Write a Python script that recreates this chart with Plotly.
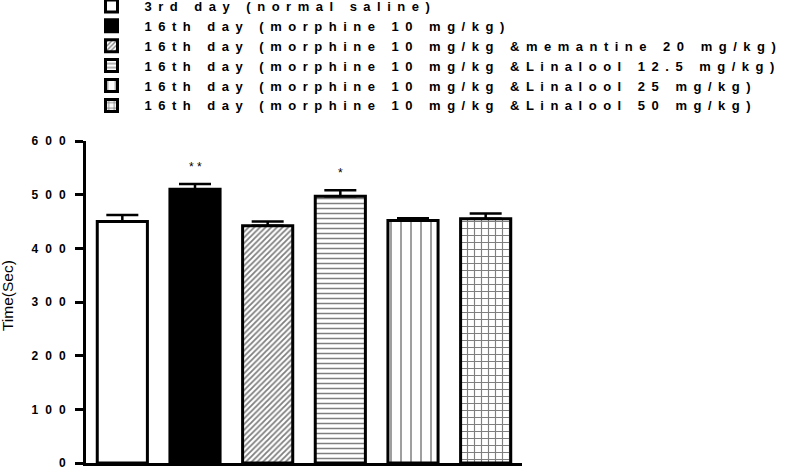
import plotly.graph_objects as go

groups = [
    "3rd day (normal saline)",
    "16th day (morphine 10 mg/kg)",
    "16th day (morphine 10 mg/kg &memantine 20 mg/kg)",
    "16th day (morphine 10 mg/kg &Linalool 12.5 mg/kg)",
    "16th day (morphine 10 mg/kg &Linalool 25 mg/kg)",
    "16th day (morphine 10 mg/kg &Linalool 50 mg/kg)",
]
means = [450, 510, 442, 497, 452, 455]
sems = [12, 10, 8, 11, 4, 10]
stars = ["", "**", "", "*", "", ""]
yticks = [0, 100, 200, 300, 400, 500, 600]

fills = ["white", "black", "white", "white", "white", "white"]
patterns = [
    dict(shape=""),
    dict(shape=""),
    dict(shape="/", size=4, solidity=0.45, fgcolor="black", bgcolor="white"),
    dict(shape="-", size=5, solidity=0.3, fgcolor="black", bgcolor="white"),
    dict(shape="|", size=10, solidity=0.15, fgcolor="black", bgcolor="white"),
    dict(shape="+", size=7, solidity=0.3, fgcolor="black", bgcolor="white"),
]

fig = go.Figure()
for i, g in enumerate(groups):
    fig.add_trace(go.Bar(
        x=[i], y=[means[i]], name=g,
        width=0.69,
        marker=dict(color=fills[i], line=dict(color="black", width=3), pattern=patterns[i]),
        error_y=dict(type="data", array=[sems[i]], arrayminus=[0], symmetric=False,
                     color="black", thickness=2.5, width=16),
    ))
    if stars[i]:
        fig.add_annotation(x=i, y=means[i] + sems[i] + 32, text=" ".join(stars[i]),
                           showarrow=False, font=dict(size=12, color="black", family="Liberation Sans"))

fig.add_annotation(xref="paper", yref="paper", x=-0.18, y=0.52, text="Time(Sec)",
                   textangle=-90, showarrow=False, xanchor="center", yanchor="middle",
                   font=dict(size=15.5, color="black", family="Liberation Sans, Arial"))

fig.update_layout(
    width=793, height=469,
    margin=dict(l=86, r=271, t=141, b=6, autoexpand=False),
    plot_bgcolor="white", paper_bgcolor="white",
    showlegend=True,
    bargap=0.31,
    font=dict(family="Liberation Sans, Arial", color="black"),
    legend=dict(xref="container", yref="paper", x=0.099, y=1.466, xanchor="left", yanchor="top",
                bgcolor="rgba(0,0,0,0)",
                font=dict(size=13, family="Liberation Sans, Arial", weight="bold"),
                itemwidth=56, tracegroupgap=0),
)
fig.update_xaxes(range=[-0.5, 5.5], showline=True, linewidth=3, linecolor="black", automargin=False,
                 showticklabels=False, ticks="", showgrid=False, zeroline=False)
fig.update_yaxes(range=[0, 600], tickvals=yticks, ticks="outside", ticklen=8, tickwidth=2.5,
                 tickcolor="black", showline=True, linewidth=3, linecolor="black", automargin=False,
                 showgrid=False, zeroline=False, ticklabeloverflow="allow",
                 tickfont=dict(size=12, weight="bold", family="Liberation Sans, Arial"))

post = ("var s=document.createElement('style');"
        "s.textContent='body{margin:0}.legendtext{letter-spacing:6.5px}.ytick text{letter-spacing:7px}"
        ".legend .scrollbox{clip-path:none !important}';"
        "document.head.appendChild(s);")
fig.write_html("out.html", post_script=post, config={"displayModeBar": False})
